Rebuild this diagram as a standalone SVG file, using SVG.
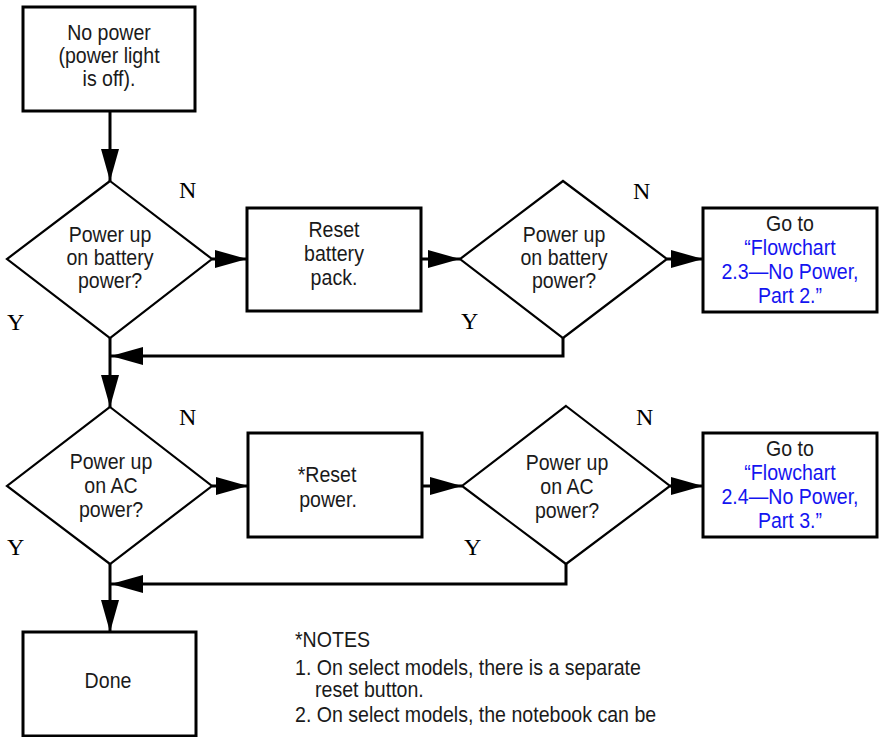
<svg xmlns="http://www.w3.org/2000/svg" width="881" height="737" viewBox="0 0 881 737">
<style>
.box{fill:#fff;stroke:#000;stroke-width:3}
.dia{fill:#fff;stroke:#000;stroke-width:2.2}
.t{font-family:"Liberation Sans",Arial,sans-serif;font-size:22px;fill:#1a1a1a;text-anchor:middle}
.b{fill:#1414f0}
.yn{font-family:"Liberation Serif",serif;font-size:24px;fill:#000}
.n{font-family:"Liberation Sans",Arial,sans-serif;font-size:22px;fill:#1a1a1a}
.c{fill:none;stroke:#000;stroke-width:3}
</style>
<defs>
<marker id="ah" markerUnits="userSpaceOnUse" markerWidth="32" markerHeight="18" refX="32" refY="9" orient="auto" viewBox="0 0 32 18">
<path d="M0,0 L32,9 L0,18 z" fill="#000"/>
</marker>
</defs>
<g id="connectors">
<line class="c" x1="110" y1="111" x2="110" y2="181" marker-end="url(#ah)"/>
<line class="c" x1="212" y1="259" x2="247" y2="259" marker-end="url(#ah)"/>
<line class="c" x1="421" y1="259" x2="460" y2="259" marker-end="url(#ah)"/>
<line class="c" x1="667" y1="259" x2="703" y2="259" marker-end="url(#ah)"/>
<polyline class="c" points="563,338 563,356 111,356" marker-end="url(#ah)"/>
<line class="c" x1="110" y1="338" x2="110" y2="407" marker-end="url(#ah)"/>
<line class="c" x1="212" y1="486" x2="248" y2="486" marker-end="url(#ah)"/>
<line class="c" x1="422" y1="486" x2="462" y2="486" marker-end="url(#ah)"/>
<line class="c" x1="670" y1="486" x2="703" y2="486" marker-end="url(#ah)"/>
<polyline class="c" points="566,564 566,584 111,584" marker-end="url(#ah)"/>
<line class="c" x1="110" y1="564" x2="110" y2="632" marker-end="url(#ah)"/>
</g>
<g id="start">
<rect class="box" x="23" y="7" width="172" height="104"/>
<text class="t" transform="translate(109,40) scale(0.89,1)">No power</text>
<text class="t" transform="translate(109,63) scale(0.89,1)">(power light</text>
<text class="t" transform="translate(109,86) scale(0.89,1)">is off).</text>
</g>
<g id="d1">
<polygon class="dia" points="110,181 212,259 110,338 7,259"/>
<text class="t" transform="translate(110,242) scale(0.89,1)">Power up</text>
<text class="t" transform="translate(110,265) scale(0.89,1)">on battery</text>
<text class="t" transform="translate(110,288) scale(0.89,1)">power?</text>
<text class="yn" x="179" y="198">N</text>
<text class="yn" x="7" y="330">Y</text>
</g>
<g id="resetBattery">
<rect class="box" x="247" y="208" width="174" height="103"/>
<text class="t" transform="translate(334,237) scale(0.89,1)">Reset</text>
<text class="t" transform="translate(334,261) scale(0.89,1)">battery</text>
<text class="t" transform="translate(334,285) scale(0.89,1)">pack.</text>
</g>
<g id="d2">
<polygon class="dia" points="563,181 667,259 563,338 460,259"/>
<text class="t" transform="translate(564,242) scale(0.89,1)">Power up</text>
<text class="t" transform="translate(564,265) scale(0.89,1)">on battery</text>
<text class="t" transform="translate(564,288) scale(0.89,1)">power?</text>
<text class="yn" x="633" y="199">N</text>
<text class="yn" x="461" y="329">Y</text>
</g>
<g id="goto1">
<rect class="box" x="703" y="208" width="174" height="104"/>
<text class="t" transform="translate(790,231) scale(0.89,1)">Go to</text>
<text class="t b" transform="translate(790,255) scale(0.89,1)">“Flowchart</text>
<text class="t b" transform="translate(790,279) scale(0.89,1)">2.3—No Power,</text>
<text class="t b" transform="translate(790,303) scale(0.89,1)">Part 2.”</text>
</g>
<g id="d3">
<polygon class="dia" points="110,407 212,486 110,564 7,486"/>
<text class="t" transform="translate(111,469) scale(0.89,1)">Power up</text>
<text class="t" transform="translate(111,493) scale(0.89,1)">on AC</text>
<text class="t" transform="translate(111,517) scale(0.89,1)">power?</text>
<text class="yn" x="179" y="425">N</text>
<text class="yn" x="7" y="555">Y</text>
</g>
<g id="resetPower">
<rect class="box" x="248" y="433" width="174" height="104"/>
<text class="t" transform="translate(327,482) scale(0.89,1)">*Reset</text>
<text class="t" transform="translate(328,507) scale(0.89,1)">power.</text>
</g>
<g id="d4">
<polygon class="dia" points="566,406 670,486 566,564 462,486"/>
<text class="t" transform="translate(567,470) scale(0.89,1)">Power up</text>
<text class="t" transform="translate(567,494) scale(0.89,1)">on AC</text>
<text class="t" transform="translate(567,518) scale(0.89,1)">power?</text>
<text class="yn" x="636" y="425">N</text>
<text class="yn" x="464" y="555">Y</text>
</g>
<g id="goto2">
<rect class="box" x="703" y="433" width="174" height="104"/>
<text class="t" transform="translate(790,456) scale(0.89,1)">Go to</text>
<text class="t b" transform="translate(790,480) scale(0.89,1)">“Flowchart</text>
<text class="t b" transform="translate(790,504) scale(0.89,1)">2.4—No Power,</text>
<text class="t b" transform="translate(790,528) scale(0.89,1)">Part 3.”</text>
</g>
<g id="done">
<rect class="box" x="23" y="632" width="173" height="104"/>
<text class="t" transform="translate(108,688) scale(0.89,1)">Done</text>
</g>
<g id="notes">
<text class="n" transform="translate(295,647) scale(0.89,1)">*NOTES</text>
<text class="n" transform="translate(295,675) scale(0.89,1)">1. On select models, there is a separate</text>
<text class="n" transform="translate(315,697) scale(0.89,1)">reset button.</text>
<text class="n" transform="translate(295,722) scale(0.89,1)">2. On select models, the notebook can be</text>
</g>
</svg>
